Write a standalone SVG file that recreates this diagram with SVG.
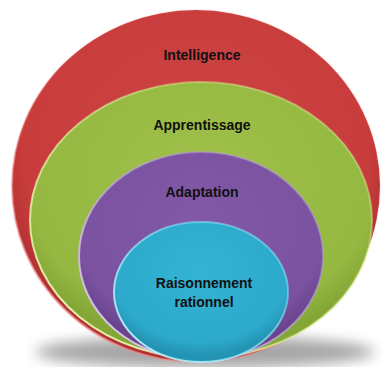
<svg xmlns="http://www.w3.org/2000/svg" width="383" height="367" viewBox="0 0 383 367">
<style>
.lbl{font-family:"Liberation Sans",Arial,sans-serif;font-weight:bold;font-size:14px;fill:#111;text-anchor:middle;}
</style>
<defs>
<filter id="blur" x="-20%" y="-50%" width="140%" height="200%"><feGaussianBlur stdDeviation="7"/></filter>
<radialGradient id="gRed" cx="50%" cy="40%" r="55%"><stop offset="0" stop-color="#CE4444"/><stop offset="0.85" stop-color="#C83C3C"/><stop offset="1" stop-color="#B23232"/></radialGradient>
<radialGradient id="gGreen" cx="50%" cy="35%" r="60%"><stop offset="0" stop-color="#A0C04A"/><stop offset="0.85" stop-color="#94B841"/><stop offset="1" stop-color="#84A636"/></radialGradient>
<radialGradient id="gPurple" cx="50%" cy="35%" r="60%"><stop offset="0" stop-color="#8259A8"/><stop offset="0.85" stop-color="#7A52A0"/><stop offset="1" stop-color="#6A448E"/></radialGradient>
<radialGradient id="gCyan" cx="50%" cy="35%" r="60%"><stop offset="0" stop-color="#34B4D4"/><stop offset="0.85" stop-color="#2CA9CB"/><stop offset="1" stop-color="#2494B4"/></radialGradient>
<linearGradient id="hiRed" x1="1" y1="0" x2="0" y2="1"><stop offset="0.45" stop-color="#E87070" stop-opacity="0.1"/><stop offset="1" stop-color="#F4A0A0"/></linearGradient>
<linearGradient id="hiGreen" x1="1" y1="0" x2="0" y2="1"><stop offset="0.3" stop-color="#D8EC90" stop-opacity="0.5"/><stop offset="1" stop-color="#F0FFC0"/></linearGradient>
<linearGradient id="hiPurple" x1="1" y1="0" x2="0" y2="1"><stop offset="0.3" stop-color="#B89CDC" stop-opacity="0.5"/><stop offset="1" stop-color="#E8D8FF"/></linearGradient>
<linearGradient id="hiCyan" x1="1" y1="0" x2="0" y2="1"><stop offset="0.3" stop-color="#80E4F4" stop-opacity="0.6"/><stop offset="1" stop-color="#C8F6FF"/></linearGradient>
</defs>
<rect width="383" height="367" fill="#fff"/>
<ellipse cx="205" cy="352" rx="170" ry="16" fill="#000" opacity="0.35" filter="url(#blur)"/>
<g id="intelligence">
<ellipse cx="196" cy="186" rx="184" ry="176" fill="url(#gRed)" stroke="url(#hiRed)" stroke-width="2"/>
<text class="lbl" x="202" y="60">Intelligence</text>
</g>
<g id="apprentissage">
<ellipse cx="201" cy="220" rx="171" ry="138" fill="url(#gGreen)" stroke="url(#hiGreen)" stroke-width="2"/>
<text class="lbl" x="202" y="130">Apprentissage</text>
</g>
<g id="adaptation">
<ellipse cx="201" cy="256" rx="122" ry="104" fill="url(#gPurple)" stroke="url(#hiPurple)" stroke-width="2"/>
<text class="lbl" x="202" y="197">Adaptation</text>
</g>
<g id="raisonnement">
<ellipse cx="201" cy="292" rx="87" ry="70" fill="url(#gCyan)" stroke="url(#hiCyan)" stroke-width="2"/>
<text class="lbl" x="204" y="288">Raisonnement</text>
<text class="lbl" x="204" y="307">rationnel</text>
</g>
<g id="connectors"/>
</svg>
